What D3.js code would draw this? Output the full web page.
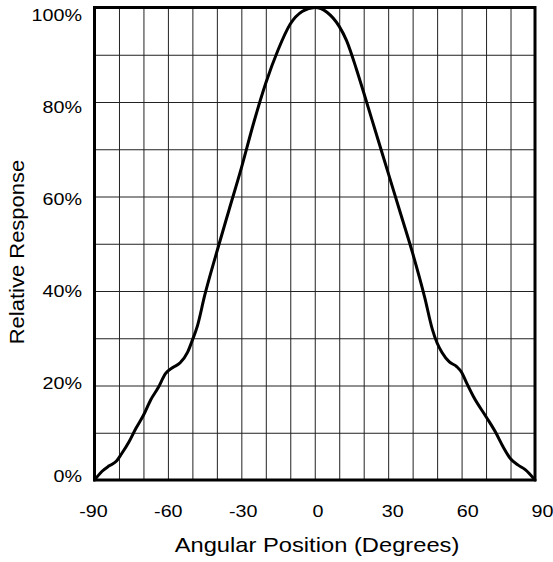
<!DOCTYPE html>
<html><head><meta charset="utf-8">
<script src="https://cdn.jsdelivr.net/npm/d3@7"></script>
<style>
body{margin:0;background:#fff}
svg text{font-family:"Liberation Sans",Arial,Helvetica,sans-serif;fill:#000}
</style>
</head><body>
<svg id="chart" width="553" height="562"></svg>
<script>
// ---- data ----
const angles   = [-90,-87,-84,-81,-79,-76,-73,-70,-67,-64,-61,-58,-55,-52,-50,-48,-45,-40,-35,-30,-25,-20,-15,-10,-5,0,5,10,13,17,20,25,30,35,40,45,48,50,52,55,58,60,62,65,70,74,77,80,83,86,90];
const response = [0,1.8,3.0,4.0,5.5,8,11,13.7,17,19.5,22.5,23.8,24.8,27,29.6,32.5,39,48.3,57.2,66,75.5,84,91,96.5,99.2,100,99,96,93,87,82,73.5,65,56.5,48,38.5,32,29,27,25,24,22.8,20.6,17.5,13.4,10,7,4.5,3.2,2.2,0];
const xTickValues = [-90,-60,-30,0,30,60,90];
const yTickValues = [0,20,40,60,80,100];
const xGridValues = [-80,-70,-60,-50,-40,-30,-20,-10,0,10,20,30,40,50,60,70,80];
const yGridValues = [10,20,30,40,50,60,70,80,90];
const xTitle = "Angular Position (Degrees)";
const yTitle = "Relative Response";

// ---- layout ----
const svg = d3.select("#chart");
const L = 94.5, R = 535, T = 7.5, B = 480;
const x = d3.scaleLinear().domain([-90,90]).range([L,R]);
const y = d3.scaleLinear().domain([0,100]).range([B,T]);
const xLab = d3.scaleLinear().domain([-90,90]).range([93,542]);
const yLab = d3.scaleLinear().domain([0,100]).range([475,14.5]);

// grid
const gx = svg.append("g").attr("transform",`translate(0,${B})`)
  .call(d3.axisBottom(x).tickValues(xGridValues).tickSize(-(B-T)).tickFormat(""));
gx.select(".domain").remove();
gx.selectAll(".tick line").attr("stroke","#222").attr("stroke-width",1);
const gy = svg.append("g").attr("transform",`translate(${L},0)`)
  .call(d3.axisLeft(y).tickValues(yGridValues).tickSize(-(R-L)).tickFormat(""));
gy.select(".domain").remove();
gy.selectAll(".tick line").attr("stroke","#222").attr("stroke-width",1);

// curve
const line = d3.line().x((d,i)=>x(angles[i])).y(d=>y(d)).curve(d3.curveMonotoneX);
svg.append("path").datum(response).attr("d",line)
  .attr("fill","none").attr("stroke","#000").attr("stroke-width",3)
  .attr("stroke-linejoin","round").attr("stroke-linecap","round");

// frame
svg.append("rect").attr("x",L).attr("y",T).attr("width",R-L).attr("height",B-T)
  .attr("fill","none").attr("stroke","#000").attr("stroke-width",3);

// x tick labels
const xa = svg.append("g").attr("transform","translate(0,517)")
  .call(d3.axisBottom(xLab).tickValues(xTickValues).tickSize(0).tickFormat(d=>String(d)));
xa.select(".domain").remove();
xa.selectAll(".tick text").attr("y",0).attr("dy",0)
  .attr("font-size",17).attr("text-anchor","middle")
  .attr("transform","scale(1.16,1)")
  .style("font-family",'"Liberation Sans",Arial,sans-serif').attr("fill","#000");

// y tick labels
const ya = svg.append("g").attr("transform","translate(82,0)")
  .call(d3.axisLeft(yLab).tickValues(yTickValues).tickSize(0).tickFormat(d=>d+"%"));
ya.select(".domain").remove();
ya.selectAll(".tick text").attr("x",0).attr("dy","0.358em")
  .attr("font-size",17).attr("text-anchor","end")
  .attr("transform","scale(1.16,1)")
  .style("font-family",'"Liberation Sans",Arial,sans-serif').attr("fill","#000");

// titles
svg.append("text").attr("transform","translate(317,552) scale(1.13,1)")
  .attr("text-anchor","middle").attr("font-size",21).text(xTitle);
svg.append("text").attr("transform","translate(24,252) rotate(-90) scale(1.1,1)")
  .attr("text-anchor","middle").attr("font-size",20).text(yTitle);
</script>
</body></html>
